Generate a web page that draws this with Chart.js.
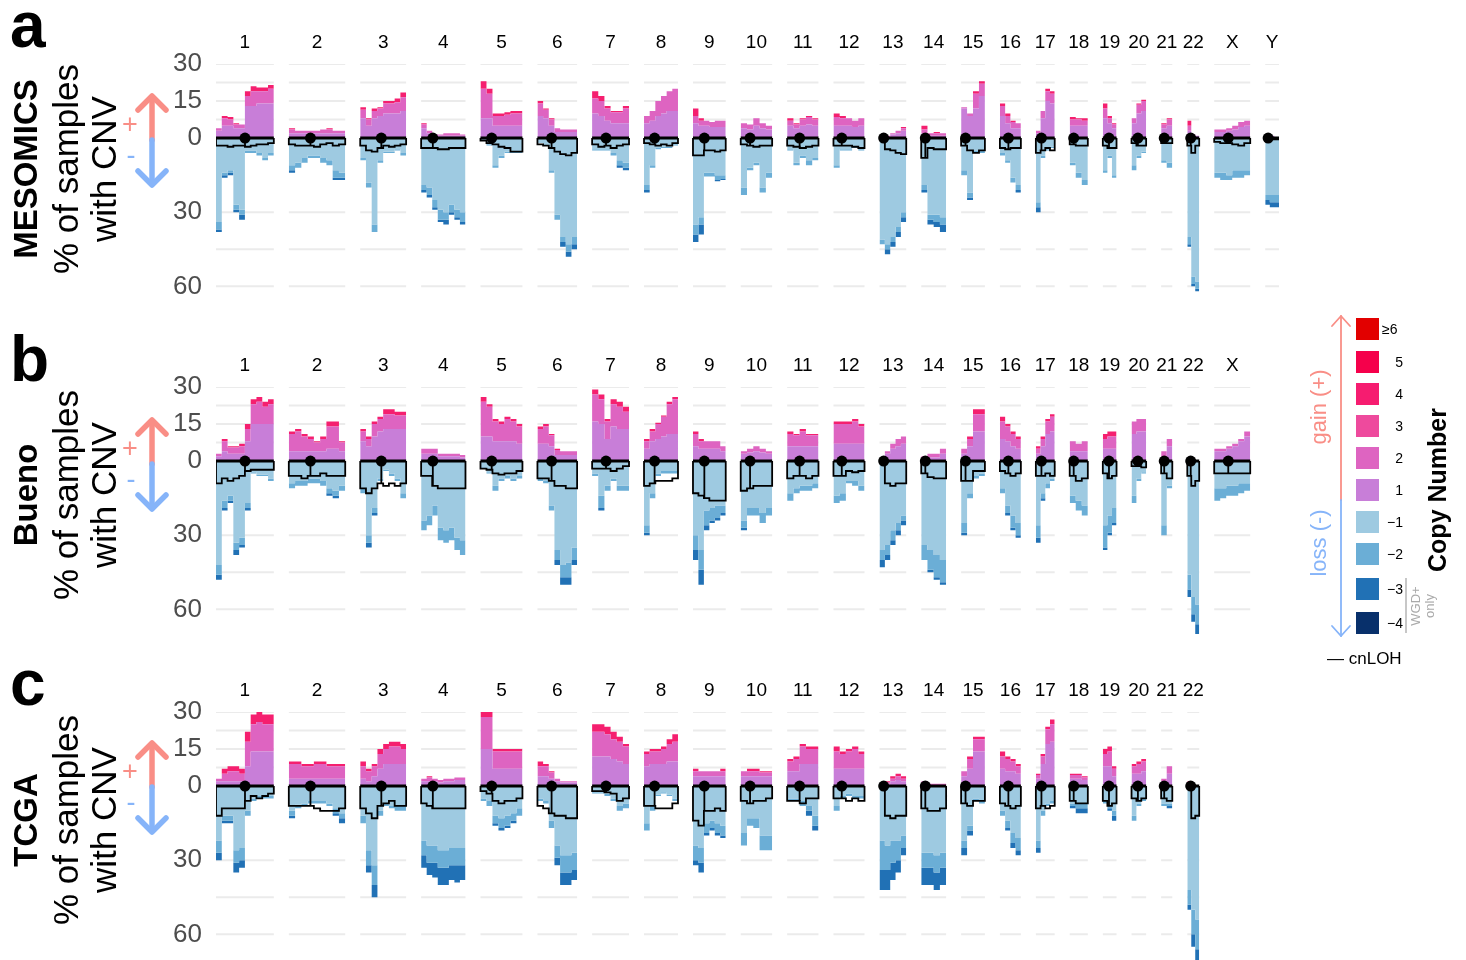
<!DOCTYPE html>
<html>
<head>
<meta charset="utf-8">
<script src="https://cdn.jsdelivr.net/npm/chart.js@4.4.1/dist/chart.umd.min.js"></script>
<style>
  body { margin: 0; width: 1466px; height: 960px; overflow: hidden; background: #fff; }
  canvas.panel { position: absolute; left: 0; }
  #overlay { position: absolute; left: 0; top: 0; }
</style>
</head>
<body>
<canvas id="panelA" class="panel" width="1290" height="294" style="top:22px"></canvas>
<canvas id="panelB" class="panel" width="1290" height="294" style="top:345px"></canvas>
<canvas id="panelC" class="panel" width="1290" height="294" style="top:670px"></canvas>
<svg id="overlay" width="1466" height="960" font-family="Liberation Sans, Arial, sans-serif"></svg>
<script>
// chromosome layout (hg19, Mb)
const chromNames = ['1','2','3','4','5','6','7','8','9','10','11','12','13','14','15','16','17','18','19','20','21','22','X','Y'];
const chromLengths = [249.3, 243.2, 198.0, 191.2, 180.9, 171.1, 159.1, 146.4, 141.2, 135.5, 135.0, 133.9, 115.2, 107.3, 102.5, 90.4, 81.2, 78.1, 59.1, 63.0, 48.1, 51.3, 155.3, 59.4];
const centromeres = [125.0, 93.3, 91.0, 50.4, 48.4, 61.0, 59.9, 45.6, 49.0, 40.2, 53.7, 35.8, 17.9, 17.6, 19.0, 36.6, 24.0, 17.2, 26.5, 27.5, 13.2, 14.7, 60.6, 12.5];
const yTicks = [30, 15, 0, -30, -60];
const gridValues = [30, 22.5, 15, 7.5, -30, -45, -60];

// % of samples per segment, one list per chromosome
// MESOMICS
const mesoGain1 = [[3,5,5,4,4,13,13,14,14,14],[2,2,2,2,2,2,2,2,2],[8,5,8,9,10,10,10,11],[4,2,1,1,1,1,1,1],[8,8,5,5,5,5,5],[9,8,5,2.5,2.5,2.5,2.5],[10,9,7,6,6,6],[6,7,9,10,11,11],[6,5,5,4.5,4.5,4.5],[4,3.5,5,4,3.5],[5,4,5,5.5,5],[5,5,5,4.5,5],[0,0.5,1.5,2,3],[2,1,1,1],[12,9,12,17],[9,6,4,4],[2,8,15,14],[5,5,5],[8,6,4],[6,10,11],[4,5],[3,1,1],[2.5,2.5,3,3.5,4.5,5],[0.5,1,0.5]];
const mesoGain2 = [[1,3,2.5,1.5,1.5,4,6,5,5,6],[1.5,1,1,1,1,1.5,1.5,1,1],[3.5,2.5,3,3,4,4,4.5,5.5],[1.5,1,0.5,0.5,1,1,1,0.5],[12,10,4,4,4.5,5,5],[5,3.5,2.5,1.5,1,1,1],[6,6,5,4.5,4.5,6],[3,4,6,7,8,9],[3,2,2,2,2.5,2.5],[2,2,3,2,1.5],[2,1.5,2.5,3,2.5],[3.5,3,3,2.5,3],[0,0.5,0.5,1,1],[1.5,1,1,1],[0.5,1,6,5],[4,3,2.5,2],[1,3,4,4],[2.5,2.5,2],[4,2,1.5],[2,3.5,4],[1.5,2.5],[2,0.5,0],[1,1,1,1.5,2,2],[0,0,0]];
const mesoGain3 = [[0,1,1,0.5,0,2,2,1.5,1.5,1.5],[0.5,0,0,0,0,0,0.5,0,0],[1,0.5,1,0.5,1,1,1.5,2],[0.5,0,0,0,0,0,0,0],[3,2,1,1,1,1,1],[1,0.5,0.5,0,0,0,0],[3,2,1,0.5,0.5,1],[0,0,0,0,0,0],[3,1,0,0,0,0],[0,0,0,0,0],[1,0.5,0.5,0.5,0.5],[1.5,1,0,0,0],[0,0,0,0,0.5],[1.5,0,0.5,0],[0,0,1,1],[1,1,0.5,0],[0,0,1,1],[1,0.5,1],[2,1,0.5],[0,0.5,0.5],[0.5,0.5],[2,0,0],[0,0,0,0,0,0],[0,0,0]];
const mesoLoss1 = [[34,14,13,27,29,5,5,6,8,6],[11,10,8,7,7,8,9,13,14],[8,18,35,9,5.5,5.5,4.5,6],[19,20,25,29,30,27,29,30],[1,2.5,11,7,5.5,5.5,5.5],[2,3,13,31,40,43,40],[4.5,4.5,4.5,6,9,10],[19,11,4,3.5,3.5,2.5],[35,32,14,14,15,15],[20,12,10,20,14],[4.5,10,7,9,8],[11,4.5,4.5,3.5,4.5],[41,43,40,36,30],[19,31,31,32],[13,22,5,5],[6,9,16,19],[26,7,4.5,3.5],[10,14,17],[13,7,15],[11,7,5.5],[9,10],[40,56,58],[14,14,15,13,13,13],[23,23,23]];
const mesoLoss2 = [[3,1,1,2,2,1,1,1,1,1],[2,2,2,1,1,2,2,3,2],[1,2,3,1,0.5,0.5,0.5,1],[2,3,3,4,3,3,3,4],[0,0.5,1,1,0.5,0.5,0.5],[0,0,1,2,2,3,3],[0.5,0.5,0.5,1,2,2],[2,1,0.5,0.5,0.5,0.5],[4,3,1.5,1.5,2,1.5],[3,1,1,2,2],[0.5,1,1,2,1],[1,0.5,0.5,0.5,0.5],[2,2,2,2,2],[2,2,3,3],[2,2,1,1],[1,1,2,2],[2,1,0.5,0.5],[1,2,2],[1,1,1],[2,1,0.5],[1,2],[3,3,3],[2,3,2,3,3,2],[2,3,3]];
const mesoLoss3 = [[1,1,1,1,2,0,0,0,0,0],[1,0,0,0,0,0,0,1,1],[0,0,0,0,0,0,0,0],[1,1,1,1,2,1,1,1],[0,0,0,0,0,0,0],[0,0,0,0,2,2,2],[0,0,0,0,1,1],[1,0,0,0,0,0],[3,4,0,0,0.5,0.5],[0,0,0,0,0],[0,0,0,0,0],[0,0,0,0,0],[0,2,2,2,2],[1,2,2,3],[0,1,0,0],[0,0,0,1],[2,0,0,0],[0,0,0],[0,0,0],[0,0,0],[0,0],[1,1,1],[0,0,0,0,0,0],[2,2,2]];
const mesoLoh = [[3,3,3.5,3,3,3.5,3,2.5,2.5,2],[2.5,3,3,3,3.5,2.5,2,3,2.5],[3,5,5.5,4,3,3.5,3,2.5],[4,4,4,4.5,4.5,4,4,4],[1,2,2.5,3.5,4,5.5,5.5],[2.5,3,4,5.5,6.5,7,6],[2.5,3.5,3,4,3,2.5],[2,2.5,3,2.5,3,2],[7,7,5,5,5.5,5],[2.5,3,3.5,3,3],[3,3.5,4,3.5,3],[3,3,3,3.5,4],[0,4.5,5,6,6.5],[8,4,4.5,4.5],[3,5,6,5],[4,4.5,4,4],[6,5,4,5],[2.5,3,3],[3,4,4],[2,3,3],[2,2],[3,6,3],[1.5,2,2,2.5,3,2],[0.5,0.5,0.5]];

// Bueno
const buenoGain1 = [[2,4,3,3,3,8,15,15,15,15],[4,4,4,4,4,4,5,5,4],[8,6,10,12,13,13,13,13],[3,3,3,2,2,2,2,1.5],[10,10,8,8,8,8,7],[7,7,6,2.5,2.5,2.5,2.5],[16,15,9,14,13,13],[5,8,9,10,11,11],[6,5,5,5,5,4],[3,3.5,4,3.5,3],[6,6,6,6,6],[7,7,7,7,7],[1,3,5,6,7],[1,1.5,1.5,3],[3,6,12,12],[9,8,6,5],[3,6,11,12],[4,4,4],[5,5,5],[11,12,12],[2,6],[1,0.5,0],[4,4,5,6,8,10]];
const buenoGain2 = [[1,4,2.5,2.5,3,5,8,9,7,8],[7,8,6,5,3.5,5,9,9,3.5],[4,3,5,5,6,6,5.5,5.5],[2,2,2,1,1,1,1,1],[14,12,8,7,9,8,7],[6,7,4.5,2,1.5,1.5,1.5],[11,10,7,9,9,7],[3,4,6,8,12,14],[5,3,3,3,3,2],[1,1.5,2,1.5,1],[5,4.5,6,4.5,4.5],[8,8,8,9,7],[0,1,2,3,3],[1,1.5,1.5,2],[2,3,7,7],[7,6,5,4],[2,3,5,6],[4,3,4],[4,5,5],[5,5,5],[2,3],[0,0,0],[1,1,1,1,1,2]];
const buenoGain3 = [[0,1,0.5,0.5,1,2,2,2,2,2],[1,1,1,1,0.5,1,2,2,0.5],[1,1,1,1,2,2,1.5,1.5],[0,0,0,0,0,0,0,0],[2,1,1,1,1,1,1],[1,1,0.5,0.5,0,0,0],[2,2,1,2,2,2],[1,1,0.5,0.5,1,1],[1,1,0,0,0,0],[0,0,0,0,0],[1,0.5,1,0.5,0.5],[1,1,1,1,1],[0,0,0,0,0],[0,0,0,0],[0,1,2,2],[2,1,1,1],[1,1,1,1],[0,0,0],[2,2,2],[0,0,0],[0,0],[0.5,0,0],[0,0,0,0,0,0]];
const buenoLoss1 = [[42,16,14,33,31,17,4.5,5.5,5.5,7],[9,8,8,7,7,8,11,12,10],[11,30,19,7,3.5,5,7,13],[24,22,18,27,28,27,31,32],[2.5,4.5,10,7,6,7,6],[7,8,18,36,42,41,35],[5,14,10,7,10,10],[26,13,5,4,4,4],[30,36,20,19,18,18],[24,19,19,21,19],[13,11,10,10,9],[14,13,8,8,10],[36,34,28,25,22],[34,36,38,40],[25,13,6,5],[11,18,22,25],[26,13,9,7],[14,16,18],[26,22,19],[14,7,4.5],[26,10],[46,55,58],[11,11,10,10,9,9]];
const buenoLoss2 = [[4,3,2,3,3,2,0.5,0.5,0.5,1],[2,2,2,2,2,2,2,2,2],[2,3,2,1,0.5,1,1,2],[4,4,4,5,5,5,5,6],[0.5,0.5,2,1,1,1,1],[1,1,2,4,5,6,5],[1,5,2,1,2,2],[3,2,1,1,1,1],[6,8,6,5,5,3],[3,3,3,4,3],[3,2,2,2,2],[3,3,1,2,2],[4,4,4,3,2],[6,8,9,9],[4,2,1,1],[2,3,5,5],[5,2,2,1],[3,4,4],[9,7,6],[3,1,0.5],[4,1],[6,7,8],[5,4,4,4,4,3]];
const buenoLoss3 = [[2,1,1,2,1,1,0,0,0,0],[0,0,0,0,0,0,1,1,0],[0,2,1,0,0,0,0,0],[0,0,0,0,0,0,0,0],[0,0,0,0,0,0,0],[0,0,0,2,3,3,2],[0,1,0,0,0,0],[1,0,0,0,0,0],[4,6,2,1,1,1],[1,0,0,0,0],[0,0,0,0,0],[0,0,0,0,0],[3,2,2,2,2],[0,1,1,1],[1,0,0,0],[0,1,1,1],[2,1,0,0],[0,0,0],[1,1,1],[0,0,0],[0,0],[3,3,4],[0,0,0,0,0,0]];
const buenoLoh = [[9,7,8,7,6,4,3.5,3.5,3.5,3.5],[6,6,7,6,6,5,6,6,6],[11,13,11,9,10,9,10,9],[6,6,10,11,11,11,11,11],[3,3.5,5,5.5,5,5,4],[7,7,8,10,10,11,11],[3,3,3,4,3,2],[10,9,8,8,8,7],[13,14,15,16,16,16],[12,11,10,10,10],[7,6,6,7,6],[6,6,4,4.5,4],[0,9,10,9,9],[5,6.5,7,7],[8,8,4,4],[4,5,6,5],[6,6,5,6],[6,8,7],[5,7,6],[2,2,2.5],[5,7],[6,10,8],[5,5,5,5,5,5]];

// TCGA
const tcgaGain1 = [[2,2,2,2,2,8,14,14,14,14],[3,3,3,3,3,3,3,3,3],[3,2,4,7,9,9,9,9],[2,2,2,1.5,2,2,2.5,2.5],[15,15,7,7,7,7,7],[4,4,3,2,1.5,1.5,1.5],[12,12,12,11,10,9],[8,9,9,9,10,10],[4,4,4,4,4,4],[4,4,4,4,4],[6,6,9,9,9],[7,7,7,7,7],[1,1,2,2.5,2],[1,0.5,0.5,0.5],[4,7,14,14],[7,6,6,5],[3,9,17,18],[3,3,2.5],[8,8,4],[5,5,6],[2,5],[1,0.5,0]];
const tcgaGain2 = [[1,3,4,4,3,10,11,12,11,11],[6,6,5,5,6,6,5,5,5],[5,4,4,6,6,7,7,6],[1,1.5,1,1,1,1,1,1],[13,13,7,7,7,7,7],[4,4,2.5,1,0.5,0.5,0.5],[10,10,9,8,8,7],[5,5,5,6,7,8],[2,2,2,2,2,2],[2,2,2,1.5,1.5],[4,5,7,6,6],[7,6,7,8,6],[0,0.5,1,1.5,1],[1,0.5,0.5,0.5],[2,4,5,5],[5,5,4,3],[1.5,3,6,7],[1.5,1.5,1],[5,6,3],[3,4,4],[1,3],[0.5,0,0]];
const tcgaGain3 = [[0,2,2,2,2,4,4,4,4,4],[1,1,1,1,1,1,1,1,1],[2,1,1,2,2,2,2,2],[0,0.5,0,0,0,0,0,0],[2,2,1,1,1,1,1],[2,1,0.5,0,0,0,0],[3,3,3,3,2,1],[1,1,1,1,2,3],[1,0,0,0,0,1],[0,1,1,0.5,0.5],[1,1,1,1,1],[2,1,1,1,1],[0,0.5,1,1,1],[0,0,0,0],[0,1,1,1],[2,1,1,1],[0.5,1,1,2],[0.5,0.5,0.5],[2,2,1],[1,1,1],[0,0],[0.5,0,0]];
const tcgaLoss1 = [[22,12,12,26,25,10,5,4,4,4],[10,7.5,7,6,6,6,7,9,11],[12,26,32,10,7,8,8,8],[22,24,24,26,26,25,25,25],[5,6,12,13,12,11,9],[5,6,14,24,28,28,27],[2.5,2.5,3,5,8,7],[15,8,3.5,2.5,3.5,5],[24,25,15,14,15,16],[19,13,13,20,20],[5,5,6,8,12],[8,4,3,4,4],[22,24,22,22,20],[27,27,28,27],[22,16,5,6],[10,14,19,21],[22,10,7,6],[7,7,7],[6,8,10],[12,7,5],[7,7],[42,50,54]];
const tcgaLoss2 = [[5,2,2,5,5,2,1,1,1,1],[2,1.5,1,1,1,1,1,2,2],[3,6,8,2,1,1,2,2],[6,7,7,7,7,7,7,7],[1,2,3,4,4,3,3],[1,1,3,5,7,7,7],[0.5,0.5,1,1,2,2],[3,2,0.5,0.5,0.5,1],[6,6,4,3,4,4],[5,3,4,6,6],[1,1,2,2,4],[2,1,1,1,1],[12,10,9,8,5],[6,6,7,6],[3,2,1,1],[2,3,4,5],[3,2,1,1],[1,2,2],[1,1,2],[2,1,1],[1,1],[6,10,12]];
const tcgaLoss3 = [[3,1,1,4,3,0,0,0,0,0],[1,0,0,0,0,0,0,1,2],[0,3,5,0,0,0,0,0],[5,5,6,7,7,6,7,6],[0,0,1,1,1,1,0],[0,0,0,3,5,5,4],[0,0,0,0,0,0],[0,0,0,0,0,0],[2,4,1,1,1,1],[0,0,0,0,0],[0,0,0,2,2],[0,0,0,0,0],[8,8,7,5,3],[7,7,7,7],[3,2,0,0],[0,1,2,2],[2,0,0,0],[1,2,2],[0,1,2],[0,0,0],[0,1],[2,5,6]];
const tcgaLoh = [[12,9,9,9,9,6,4,5,4,3],[8,8,8,8,9,10,10,10,9],[9,11,13,8,7,6,8,8],[7,8,9,9,9,9,9,9],[2,3,6,7,6,6,5],[8,9,11,12,12,13,13],[2,2,2.5,3,6,5],[8,8,9,9,9,7],[14,16,10,10,9,10],[6,7,6,6,5],[6,6,7,5,5],[5,5,6,5,6],[0,12,13,12,12],[9,10,10,9],[7,8,6,6],[7,8,9,8],[9,8,9,8],[6,7,7],[6,8,7],[5,6,5],[5,6],[0,13,12]];

const legendLabels = ['≥6', '5', '4', '3', '2', '1', '−1', '−2', '−3', '−4'];
const legendColors = ['#e20000', '#f5004b', '#f61c70', '#ee4a9d', '#de64c1', '#c87ed8', '#9ecae1', '#6baed6', '#2171b5', '#08306b'];
const gainColors = ['#c87ed8', '#de64c1', '#f51f6f'];
const lossColors = ['#9ecae1', '#6baed6', '#2171b5'];

const GAP = 64.7;
const FONT = 'Liberation Sans, Arial, sans-serif';
const chromStarts = [];
let acc = 0;
chromLengths.forEach(len => { chromStarts.push(acc); acc += len + GAP; });
const xMax = acc - GAP;

function stepSeries(perChrom, sign) {
    const pts = [];
    perChrom.forEach((vals, i) => {
        const s = chromStarts[i], len = chromLengths[i], k = vals.length;
        vals.forEach((v, j) => pts.push({ x: s + len * j / k, y: sign * v }));
        pts.push({ x: s + len, y: sign * vals[k - 1] });
        pts.push({ x: s + len, y: null });
    });
    return pts;
}

function addLayer(a, b) {
    return a.map((vals, i) => vals.map((v, j) => v + b[i][j]));
}

function lohSeries(loh) {
    const pts = [];
    loh.forEach((vals, i) => {
        const s = chromStarts[i], len = chromLengths[i], k = vals.length;
        pts.push({ x: s, y: 0 });
        vals.forEach((v, j) => pts.push({ x: s + len * j / k, y: -v }));
        pts.push({ x: s + len, y: -vals[k - 1] });
        pts.push({ x: s + len, y: 0 });
        pts.push({ x: s + len, y: null });
    });
    return pts;
}

function makePanel(canvasId, layers) {
    const [g1, g2, g3, l1, l2, l3, loh] = layers;
    const n = g1.length;
    layers.forEach(layer => {
        if (layer.length !== n) throw new Error(canvasId + ': chromosome count mismatch');
        layer.forEach((vals, i) => {
            if (vals.length !== g1[i].length) throw new Error(canvasId + ': segment count mismatch on chr ' + chromNames[i]);
        });
    });

    const gainStack = [g1, addLayer(g1, g2), addLayer(addLayer(g1, g2), g3)];
    const lossStack = [l1, addLayer(l1, l2), addLayer(addLayer(l1, l2), l3)];
    const present = chromNames.slice(0, n);

    const datasets = [];
    gainStack.forEach((layer, i) => datasets.push({
        data: stepSeries(layer, 1), stepped: true, spanGaps: false,
        backgroundColor: gainColors[i], borderColor: 'rgba(0,0,0,0)', borderWidth: 0,
        fill: i === 0 ? 'origin' : '-1', order: 5
    }));
    lossStack.forEach((layer, i) => datasets.push({
        data: stepSeries(layer, -1), stepped: true, spanGaps: false,
        backgroundColor: lossColors[i], borderColor: 'rgba(0,0,0,0)', borderWidth: 0,
        fill: i === 0 ? 'origin' : '-1', order: 5
    }));

    // background grid, one segment per chromosome
    gridValues.forEach(g => {
        const pts = [];
        present.forEach((_, i) => {
            pts.push({ x: chromStarts[i], y: g }, { x: chromStarts[i] + chromLengths[i], y: g }, { x: chromStarts[i], y: null });
        });
        datasets.push({ data: pts, borderColor: '#ebebeb', borderWidth: 2, fill: false, order: 20 });
    });

    // zero line per chromosome
    const zero = [];
    present.forEach((_, i) => {
        zero.push({ x: chromStarts[i], y: 0 }, { x: chromStarts[i] + chromLengths[i], y: 0 }, { x: chromStarts[i], y: null });
    });
    datasets.push({ data: zero, borderColor: '#000', borderWidth: 3, fill: false, order: 2 });

    // cnLOH line and centromere stems
    datasets.push({ data: lohSeries(loh), stepped: true, borderColor: '#000', borderWidth: 1.8, fill: false, order: 1 });
    const stems = [];
    present.forEach((_, i) => {
        const vals = loh[i];
        const seg = Math.min(vals.length - 1, Math.floor(centromeres[i] / chromLengths[i] * vals.length));
        const cx = chromStarts[i] + centromeres[i];
        stems.push({ x: cx, y: 0 }, { x: cx, y: -vals[seg] }, { x: cx, y: null });
    });
    datasets.push({ data: stems, borderColor: '#000', borderWidth: 1.8, fill: false, order: 1 });

    // centromere dots
    datasets.push({
        data: present.map((_, i) => ({ x: chromStarts[i] + centromeres[i], y: 0 })),
        showLine: false, pointRadius: 5.5, pointBackgroundColor: '#000', pointBorderWidth: 0, order: 0
    });

    new Chart(document.getElementById(canvasId), {
        type: 'line',
        data: { datasets: datasets },
        options: {
            responsive: false,
            animation: false,
            devicePixelRatio: 1,
            events: [],
            layout: { autoPadding: false, padding: { left: 0, right: 11, top: 0, bottom: 0 } },
            plugins: { legend: { display: false }, tooltip: { enabled: false } },
            elements: { point: { radius: 0 }, line: { tension: 0 } },
            scales: {
                x: {
                    type: 'linear', position: 'top', min: 0, max: xMax,
                    grid: { display: false, drawTicks: false }, border: { display: false },
                    afterBuildTicks: s => { s.ticks = present.map((_, i) => ({ value: chromStarts[i] + chromLengths[i] / 2 })); },
                    afterFit: s => { s.height = 42; s.paddingLeft = 0; s.paddingRight = 0; },
                    ticks: {
                        autoSkip: false, maxRotation: 0, padding: 10,
                        font: { family: FONT, size: 19 }, color: '#000',
                        callback: (v, i) => present[i]
                    }
                },
                y: {
                    type: 'linear', min: -72, max: 30,
                    grid: { display: false, drawTicks: false }, border: { display: false },
                    afterBuildTicks: s => { s.ticks = yTicks.map(v => ({ value: v })); },
                    afterFit: s => { s.width = 216; s.paddingTop = 0; s.paddingBottom = 0; },
                    ticks: {
                        padding: 14, font: { family: FONT, size: 26 }, color: '#4d4d4d',
                        callback: v => String(Math.abs(v))
                    }
                }
            }
        }
    });
}

makePanel('panelA', [mesoGain1, mesoGain2, mesoGain3, mesoLoss1, mesoLoss2, mesoLoss3, mesoLoh]);
makePanel('panelB', [buenoGain1, buenoGain2, buenoGain3, buenoLoss1, buenoLoss2, buenoLoss3, buenoLoh]);
makePanel('panelC', [tcgaGain1, tcgaGain2, tcgaGain3, tcgaLoss1, tcgaLoss2, tcgaLoss3, tcgaLoh]);

// annotations: panel letters, axis titles, arrows, legend
const svg = document.getElementById('overlay');
const SVGNS = 'http://www.w3.org/2000/svg';
function el(tag, attrs, text) {
    const e = document.createElementNS(SVGNS, tag);
    Object.entries(attrs).forEach(([k, v]) => e.setAttribute(k, v));
    if (text !== undefined) e.textContent = text;
    svg.appendChild(e);
    return e;
}
const salmon = '#f98e86', blue = '#86b4f9';

const panels = [
    { letter: 'a', name: 'MESOMICS', letterY: 47, titleY: 169, zeroY: 138 },
    { letter: 'b', name: 'Bueno', letterY: 381, titleY: 495, zeroY: 462 },
    { letter: 'c', name: 'TCGA', letterY: 705, titleY: 820, zeroY: 785 }
];
panels.forEach(p => {
    el('text', { x: 10, y: p.letterY, 'font-size': 64, 'font-weight': 'bold' }, p.letter);
    el('text', { transform: `translate(37,${p.titleY}) rotate(-90)`, 'text-anchor': 'middle', 'font-size': 33, 'font-weight': 'bold' }, p.name);
    el('text', { transform: `translate(78,${p.titleY}) rotate(-90)`, 'text-anchor': 'middle', 'font-size': 35 }, '% of samples');
    el('text', { transform: `translate(116,${p.titleY}) rotate(-90)`, 'text-anchor': 'middle', 'font-size': 35 }, 'with CNV');
    const z = p.zeroY;
    const arrow = { fill: 'none', 'stroke-width': 5.5, 'stroke-linecap': 'round', 'stroke-linejoin': 'round' };
    el('line', { ...arrow, x1: 152, y1: z + 2, x2: 152, y2: z - 41, stroke: salmon });
    el('polyline', { ...arrow, points: `138,${z - 28} 152,${z - 42} 166,${z - 28}`, stroke: salmon });
    el('line', { ...arrow, x1: 152, y1: z + 2, x2: 152, y2: z + 46, stroke: blue });
    el('polyline', { ...arrow, points: `138,${z + 33} 152,${z + 47} 166,${z + 33}`, stroke: blue });
    el('text', { x: 130, y: z - 5, 'text-anchor': 'middle', 'font-size': 27, fill: salmon }, '+');
    el('text', { x: 131, y: z + 26, 'text-anchor': 'middle', 'font-size': 27, fill: blue }, '-');
});

// legend
const thin = { fill: 'none', 'stroke-width': 1.8, 'stroke-linecap': 'round', 'stroke-linejoin': 'round' };
el('line', { ...thin, x1: 1341, y1: 316, x2: 1341, y2: 500, stroke: salmon });
el('polyline', { ...thin, points: '1332,326 1341,316 1350,326', stroke: salmon });
el('line', { ...thin, x1: 1341, y1: 500, x2: 1341, y2: 636, stroke: blue });
el('polyline', { ...thin, points: '1332,626 1341,636 1350,626', stroke: blue });
el('text', { transform: 'translate(1326,407) rotate(-90)', 'text-anchor': 'middle', 'font-size': 22, fill: salmon }, 'gain (+)');
el('text', { transform: 'translate(1326,543) rotate(-90)', 'text-anchor': 'middle', 'font-size': 22, fill: blue }, 'loss (-)');
const legendTops = [318, 351, 383, 415, 447, 479, 511, 543, 578, 612];
legendLabels.forEach((lab, i) => {
    el('rect', { x: 1356, y: legendTops[i], width: 23, height: 22, fill: legendColors[i] });
    if (i === 0) el('text', { x: 1382, y: legendTops[i] + 16, 'font-size': 14 }, lab);
    else el('text', { x: 1403, y: legendTops[i] + 16, 'font-size': 14, 'text-anchor': 'end' }, lab);
});
el('text', { transform: 'translate(1446,490) rotate(-90)', 'text-anchor': 'middle', 'font-size': 25, 'font-weight': 'bold' }, 'Copy Number');
el('line', { x1: 1406, y1: 578, x2: 1406, y2: 633, stroke: '#b5b5b5', 'stroke-width': 1.5 });
el('text', { transform: 'translate(1420,606) rotate(-90)', 'text-anchor': 'middle', 'font-size': 13, fill: '#aaaaaa' }, 'WGD+');
el('text', { transform: 'translate(1434,606) rotate(-90)', 'text-anchor': 'middle', 'font-size': 13, fill: '#aaaaaa' }, 'only');
el('text', { x: 1327, y: 664, 'font-size': 17 }, '— cnLOH');
</script>
</body>
</html>
